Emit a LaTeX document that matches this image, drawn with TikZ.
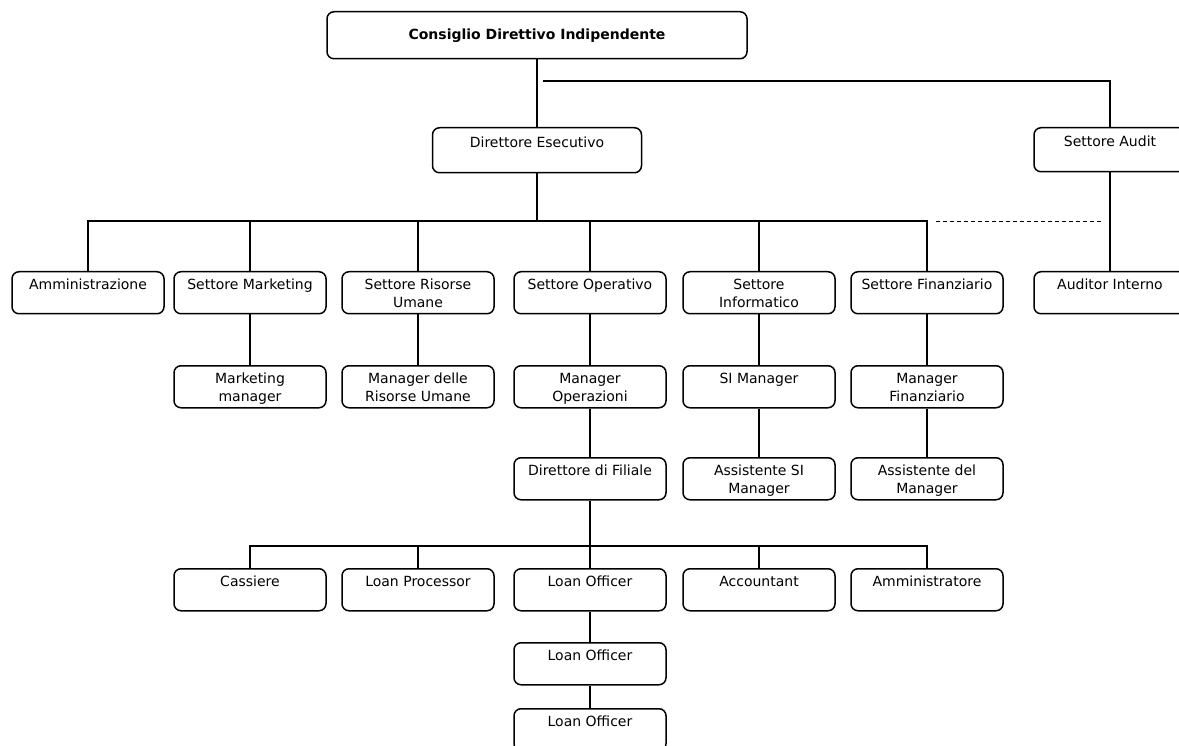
\documentclass[tikz,border=0pt]{standalone}
\usepackage{fontspec}
\setmainfont{DejaVu Sans}
\newcommand{\boxtext}[1]{\parbox[c][42pt][t]{150pt}{\centering\rule{0pt}{18pt}#1}}
\begin{document}
\begin{tikzpicture}[x=1pt, y=-1pt,
  unit/.style={draw, rounded corners=7pt, line width=1.5pt, minimum width=152pt, minimum height=42pt, inner sep=0pt, anchor=north, font=\fontsize{14}{18}\selectfont},
  link/.style={line width=1.5pt}
]
\useasboundingbox (0,0) rectangle (1179,746);
% vertici
\node[unit, minimum width=420pt, minimum height=47pt, font=\fontsize{14}{18}\selectfont\bfseries] (cdi) at (537,11) {Consiglio Direttivo Indipendente};
\node[unit, minimum width=209pt, minimum height=45pt] (dir) at (537,127) {\boxtext{Direttore Esecutivo}};
\node[unit, minimum height=44pt] (audit) at (1110,127) {\boxtext{Settore Audit}};
% settori
\node[unit] (amm) at (88,271) {\boxtext{Amministrazione}};
\node[unit] (mkt) at (250,271) {\boxtext{Settore Marketing}};
\node[unit] (hr) at (418,271) {\boxtext{Settore Risorse\\Umane}};
\node[unit] (op) at (590,271) {\boxtext{Settore Operativo}};
\node[unit] (it) at (759,271) {\boxtext{Settore\\Informatico}};
\node[unit] (fin) at (927,271) {\boxtext{Settore Finanziario}};
\node[unit] (aud) at (1110,271) {\boxtext{Auditor Interno}};
% manager
\node[unit] (mktm) at (250,365) {\boxtext{Marketing\\manager}};
\node[unit] (hrm) at (418,365) {\boxtext{Manager delle\\Risorse Umane}};
\node[unit] (opm) at (590,365) {\boxtext{Manager\\Operazioni}};
\node[unit] (sim) at (759,365) {\boxtext{SI Manager}};
\node[unit] (finm) at (927,365) {\boxtext{Manager\\Finanziario}};
\node[unit] (fil) at (590,457) {\boxtext{Direttore di Filiale}};
\node[unit] (sia) at (759,457) {\boxtext{Assistente SI\\Manager}};
\node[unit] (fina) at (927,457) {\boxtext{Assistente del\\Manager}};
% filiale
\node[unit] (cas) at (250,568) {\boxtext{Cassiere}};
\node[unit] (lp) at (418,568) {\boxtext{Loan Processor}};
\node[unit] (lo1) at (590,568) {\boxtext{Loan Officer}};
\node[unit] (acc) at (759,568) {\boxtext{Accountant}};
\node[unit] (adm) at (927,568) {\boxtext{Amministratore}};
\node[unit] (lo2) at (590,642) {\boxtext{Loan Officer}};
\node[unit] (lo3) at (590,708) {\boxtext{Loan Officer}};
% linee
\coordinate (tap) at (543,81);
\coordinate (bus) at (537,221);
\coordinate (busend) at (600,221);
\coordinate (bus2) at (590,546);
\coordinate (bus2end) at (762,546);
\coordinate (dl) at (936,221);
\coordinate (dr) at (1103,221);
\draw[link] (cdi.south) -- (dir.north);
\draw[link] (tap) -| (audit.north);
\draw[link] (dir.south) -- (bus);
\foreach \n in {amm,mkt,hr,op,it,fin}
  \draw[link] (bus) -| (\n.north);
\draw[line width=2.6pt] (mkt.north |- bus) -- (busend);
\draw[dashed, line width=0.8pt, dash pattern=on 4pt off 3pt] (dl) -- (dr);
\draw[link] (audit.south) -- (aud.north);
\draw[link] (mkt) -- (mktm);
\draw[link] (hr) -- (hrm);
\draw[link] (op) -- (opm);
\draw[link] (it) -- (sim);
\draw[link] (fin) -- (finm);
\draw[link] (opm) -- (fil);
\draw[link] (sim) -- (sia);
\draw[link] (finm) -- (fina);
\draw[link] (fil.south) -- (bus2);
\foreach \n in {cas,lp,lo1,acc,adm}
  \draw[link] (bus2) -| (\n.north);
\draw[line width=2.6pt] (bus2) -- (bus2end);
\draw[link] (lo1) -- (lo2);
\draw[link] (lo2) -- (lo3);
\end{tikzpicture}
\end{document}
